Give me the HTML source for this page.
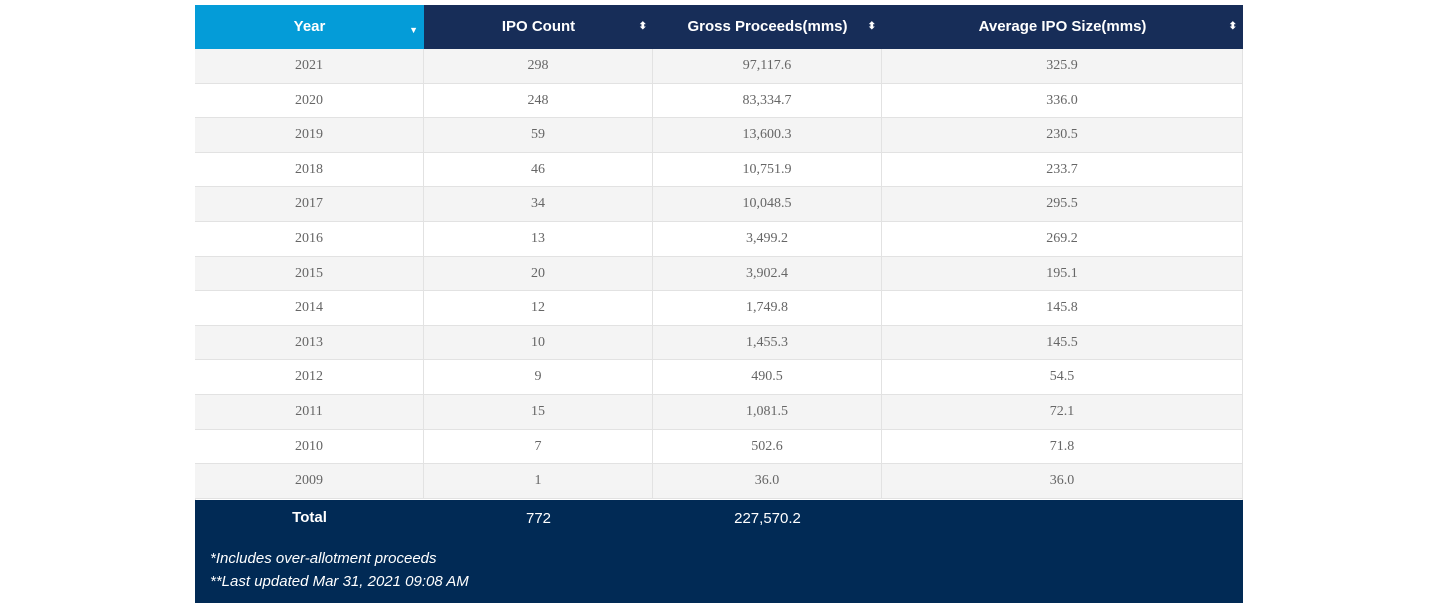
<!DOCTYPE html>
<html><head><meta charset="utf-8"><style>
body{margin:0;width:1440px;height:608px;background:#fff;position:relative;overflow:hidden;font-family:"Liberation Sans",sans-serif}
.abs{position:absolute;box-sizing:border-box}
.hd{top:5px;height:44px;color:#fff;font-weight:bold;font-size:15px;line-height:44px;text-align:center}
.cell{height:34.5px;line-height:34.5px;text-align:center;font-family:"Liberation Serif",serif;font-size:14px;color:#666;border-right:1px solid #e2e2e2;border-bottom:1px solid #e2e2e2}
.arr{position:absolute;right:6px;top:0;font-size:10px;line-height:44px}
</style></head><body>
<div class="abs" style="left:195px;top:5px;width:1048px;height:598px;border-left:1px solid #e2e2e2;border-right:1px solid #e2e2e2"></div>
<div class="abs hd" style="left:195px;width:229px;background:#049cd8">Year<span class="arr" style="font-size:9px;top:3px">▼</span></div>
<div class="abs hd" style="left:424px;width:229px;background:#172d58">IPO Count<span class="arr">⬍</span></div>
<div class="abs hd" style="left:653px;width:229px;background:#172d58">Gross Proceeds(mms)<span class="arr">⬍</span></div>
<div class="abs hd" style="left:882px;width:361px;background:#172d58">Average IPO Size(mms)<span class="arr">⬍</span></div>
<div id="rows"></div>
<div class="abs" style="left:195px;top:500px;width:1048px;height:103px;background:#012a55;color:#fff">
<div class="abs" style="left:0;top:9px;width:229px;text-align:center;font-weight:bold;font-size:15px">Total</div>
<div class="abs" style="left:229px;top:10px;width:229px;text-align:center;font-size:15px">772</div>
<div class="abs" style="left:458px;top:10px;width:229px;text-align:center;font-size:15px">227,570.2</div>
<div class="abs" style="left:15px;top:50px;font-style:italic;font-size:15px">*Includes over-allotment proceeds</div>
<div class="abs" style="left:15px;top:73px;font-style:italic;font-size:15px">**Last updated Mar 31, 2021 09:08 AM</div>
</div>
<script>
const years=["2021","2020","2019","2018","2017","2016","2015","2014","2013","2012","2011","2010","2009"];
const counts=["298","248","59","46","34","13","20","12","10","9","15","7","1"];
const proceeds=["97,117.6","83,334.7","13,600.3","10,751.9","10,048.5","3,499.2","3,902.4","1,749.8","1,455.3","490.5","1,081.5","502.6","36.0"];
const avgs=["325.9","336.0","230.5","233.7","295.5","269.2","195.1","145.8","145.5","54.5","72.1","71.8","36.0"];
const host=document.getElementById('rows');
const cols=[[195,229],[424,229],[653,229],[882,361]];
for(let i=0;i<years.length;i++){
  const vals=[years[i],counts[i],proceeds[i],avgs[i]];
  const row=document.createElement('div');
  
  
  host.appendChild(row);
  for(let c=0;c<4;c++){
    const d=document.createElement('div');
    
    
    d.className='abs cell';
    d.style.left=cols[c][0]+'px';d.style.width=cols[c][1]+'px';
    d.style.top=(49+i*34.6)+'px';
    d.style.background=i%2==0?'#f4f4f4':'#fff';
    d.textContent=vals[c];
    row.appendChild(d);
  }
}
</script>
</body></html>
